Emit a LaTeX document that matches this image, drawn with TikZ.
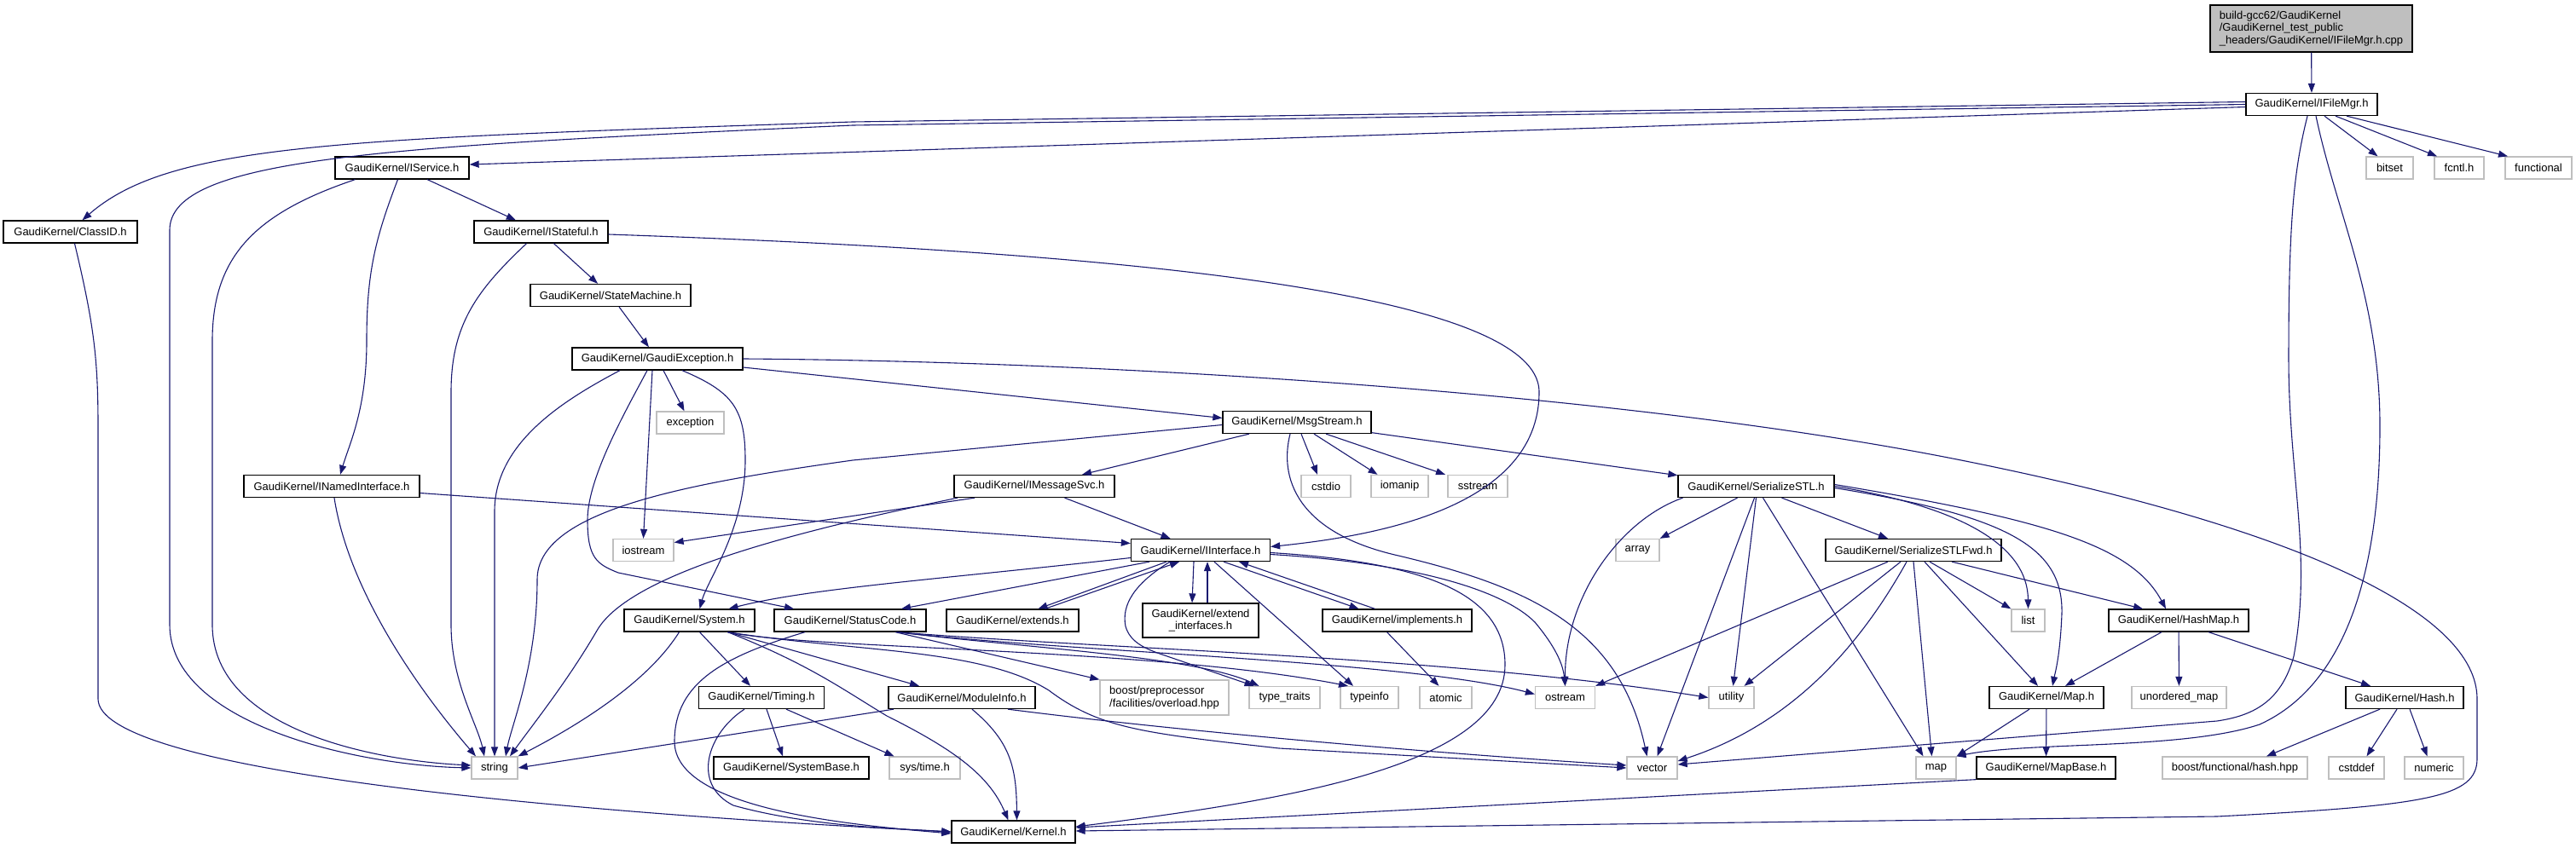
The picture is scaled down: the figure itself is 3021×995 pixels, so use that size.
\documentclass[tikz,border=0pt]{standalone}
\usepackage{fontspec}
\setmainfont{Liberation Sans}
\usetikzlibrary{arrows.meta}
\definecolor{edgec}{HTML}{191970}
\definecolor{grayb}{HTML}{BFBFBF}
\begin{document}
\begin{tikzpicture}[x=1pt,y=-1pt,
  font=\fontsize{13}{14.5}\selectfont,
  bx/.style={draw=black, line width=1.3pt, fill=white, minimum height=26pt, inner xsep=6pt, inner ysep=2pt},
  gx/.style={bx, draw=grayb},
  ed/.style={draw=edgec, line width=1.1pt, -{Triangle[length=11pt,width=8pt]}}]
\useasboundingbox (0,0) rectangle (3021,995);
% nodes
\node[bx, fill=grayb, minimum width=237pt, minimum height=55pt, align=left] (root) at (2710.5,33.5) {build-gcc62/GaudiKernel\\/GaudiKernel\_test\_public\\\_headers/GaudiKernel/IFileMgr.h.cpp};
\node[bx, minimum width=154pt] (IFileMgr) at (2711,122.5) {GaudiKernel/IFileMgr.h};
\node[gx, minimum width=55pt] (bitset) at (2802.5,197) {bitset};
\node[gx, minimum width=58pt] (fcntl) at (2884,197) {fcntl.h};
\node[gx, minimum width=78pt] (functional) at (2977,197) {functional};
\node[bx, minimum width=157pt] (IService) at (471.5,197) {GaudiKernel/IService.h};
\node[bx, minimum width=157pt] (ClassID) at (82.5,272) {GaudiKernel/ClassID.h};
\node[bx, minimum width=157pt] (IStateful) at (634.5,272) {GaudiKernel/IStateful.h};
\node[bx, minimum width=188pt] (StateMachine) at (716,346.5) {GaudiKernel/StateMachine.h};
\node[bx, minimum width=200pt] (GaudiException) at (771,421) {GaudiKernel/GaudiException.h};
\node[gx, minimum width=79pt] (exception) at (809.5,496) {exception};
\node[bx, minimum width=174pt] (MsgStream) at (1521,495.5) {GaudiKernel/MsgStream.h};
\node[bx, minimum width=188pt] (IMessageSvc) at (1213,570.5) {GaudiKernel/IMessageSvc.h};
\node[gx, minimum width=58pt] (cstdio) at (1555,570.5) {cstdio};
\node[gx, minimum width=67pt] (iomanip) at (1641.5,570.5) {iomanip};
\node[gx, minimum width=70pt] (sstream) at (1733,570.5) {sstream};
\node[bx, minimum width=183pt] (SerializeSTL) at (2059.5,570.5) {GaudiKernel/SerializeSTL.h};
\node[bx, minimum width=206pt] (INamedInterface) at (389,570.5) {GaudiKernel/INamedInterface.h};
\node[bx, minimum width=163pt] (IInterface) at (1408,645.5) {GaudiKernel/IInterface.h};
\node[gx, minimum width=71pt] (iostream) at (754.5,645.5) {iostream};
\node[gx, minimum width=51pt] (array) at (1920.5,645.5) {array};
\node[bx, minimum width=206pt] (SerializeSTLFwd) at (2244,645.5) {GaudiKernel/SerializeSTLFwd.h};
\node[bx, minimum width=153pt] (System) at (808.5,728) {GaudiKernel/System.h};
\node[bx, minimum width=178pt] (StatusCode) at (997,728) {GaudiKernel/StatusCode.h};
\node[bx, minimum width=155pt] (extends) at (1187.5,728) {GaudiKernel/extends.h};
\node[bx, minimum width=136pt, minimum height=40pt, align=center] (extendif) at (1408,728) {GaudiKernel/extend\\\_interfaces.h};
\node[bx, minimum width=175pt] (implements) at (1638.5,728) {GaudiKernel/implements.h};
\node[gx, minimum width=39pt] (list) at (2378.5,728) {list};
\node[bx, minimum width=164pt] (HashMap) at (2555,728) {GaudiKernel/HashMap.h};
\node[bx, minimum width=147pt] (Timing) at (893,818.5) {GaudiKernel/Timing.h};
\node[bx, minimum width=172pt] (ModuleInfo) at (1128,818.5) {GaudiKernel/ModuleInfo.h};
\node[gx, minimum width=151pt, minimum height=41pt, align=left] (boost) at (1365.5,818.5) {boost/preprocessor\\/facilities/overload.hpp};
\node[gx, minimum width=83pt] (typetraits) at (1506.5,818.5) {type\_traits};
\node[gx, minimum width=68pt] (typeinfo) at (1606,818.5) {typeinfo};
\node[gx, minimum width=61pt] (atomic) at (1695.5,818.5) {atomic};
\node[gx, minimum width=70pt] (ostream) at (1835.5,818.5) {ostream};
\node[gx, minimum width=53pt] (utility) at (2030.5,818.5) {utility};
\node[bx, minimum width=134pt] (Map) at (2400,818.5) {GaudiKernel/Map.h};
\node[gx, minimum width=111pt] (unordered) at (2555.5,818.5) {unordered\_map};
\node[bx, minimum width=138pt] (Hash) at (2820,818.5) {GaudiKernel/Hash.h};
\node[bx, minimum width=182pt] (SystemBase) at (928,901) {GaudiKernel/SystemBase.h};
\node[gx, minimum width=83pt] (systime) at (1084.5,901) {sys/time.h};
\node[gx, minimum width=54pt] (string) at (580,901) {string};
\node[gx, minimum width=59pt] (vector) at (1937.5,901) {vector};
\node[gx, minimum width=47pt] (map) at (2270.5,901) {map};
\node[bx, minimum width=163pt] (MapBase) at (2399.5,901) {GaudiKernel/MapBase.h};
\node[gx, minimum width=170pt] (boosthash) at (2621,901) {boost/functional/hash.hpp};
\node[gx, minimum width=65pt] (cstddef) at (2763.5,901) {cstddef};
\node[gx, minimum width=69pt] (numeric) at (2854.5,901) {numeric};
\node[bx, minimum width=145pt] (Kernel) at (1188.5,976) {GaudiKernel/Kernel.h};
% edges: root / IFileMgr
\draw[ed] (root) -- (IFileMgr);
\draw[ed] ([yshift=3pt]IFileMgr.west) -- (1000,143) .. controls (400,163) and (200,168) .. ([xshift=14pt]ClassID.north);
\draw[ed] (IFileMgr.west) -- (1000,147) .. controls (450,172) and (199,185) .. (199,270) -- (199,733) .. controls (199,850) and (420,898) .. (string.west);
\draw[ed] ([yshift=-3pt]IFileMgr.west) -- ([yshift=4pt]IService.east);
\draw[ed] ([xshift=15pt]IFileMgr.south) -- ([xshift=-14pt]bitset.north);
\draw[ed] ([xshift=28pt]IFileMgr.south) -- ([xshift=-26pt]fcntl.north);
\draw[ed] ([xshift=41pt]IFileMgr.south) -- ([xshift=-36pt]functional.north);
\draw[ed] ([xshift=-5pt]IFileMgr.south) .. controls (2690,200) and (2684,260) .. (2684,420) .. controls (2684,560) and (2712,650) .. (2690,770) .. controls (2675,825) and (2640,840) .. (2600,846) -- ([yshift=4pt]vector.east);
\draw[ed] ([xshift=5pt]IFileMgr.south) .. controls (2740,250) and (2791,350) .. (2791,500) .. controls (2791,650) and (2760,800) .. (2650,850) .. controls (2560,880) and (2380,870) .. (map.north east);
% IService
\draw[ed] (IService) -- (IStateful);
\draw[ed] ([xshift=-5pt]IService.south) .. controls (440,280) and (430,320) .. (430,400) .. controls (430,480) and (410,520) .. ([xshift=10pt]INamedInterface.north);
\draw[ed] ([xshift=-55pt]IService.south) .. controls (300,250) and (249,300) .. (249,400) -- (249,733) .. controls (249,860) and (450,893) .. ([yshift=3pt]string.west);
% IStateful
\draw[ed] (IStateful) -- (StateMachine);
\draw[ed] ([xshift=-17pt]IStateful.south) .. controls (560,340) and (529,380) .. (529,460) -- (529,733) .. controls (529,800) and (560,850) .. ([xshift=-12pt]string.north);
\draw[ed] ([yshift=-3pt]IStateful.east) .. controls (1200,292) and (1805,330) .. (1805,460) .. controls (1805,600) and (1600,630) .. ([yshift=4pt]IInterface.east);
% StateMachine / GaudiException
\draw[ed] (StateMachine) -- (GaudiException);
\draw[ed] (GaudiException) -- (exception);
\draw[ed] ([xshift=-6pt]GaudiException.south) -- (iostream.north);
\draw[ed] ([xshift=-44pt]GaudiException.south) .. controls (660,470) and (580,520) .. (580,600) -- (string.north);
\draw[ed] ([xshift=-12pt]GaudiException.south) .. controls (735,480) and (689,560) .. (689,610) .. controls (689,655) and (700,662) .. (725,672) -- ([xshift=-66pt]StatusCode.north);
\draw[ed] ([xshift=29pt]GaudiException.south) .. controls (860,460) and (874,480) .. (874,540) .. controls (874,620) and (830,680) .. ([xshift=12pt]System.north);
\draw[ed] ([yshift=-10pt]GaudiException.east) -- ([yshift=5pt]MsgStream.west);
\draw[ed] (GaudiException.east) .. controls (1300,424) and (1900,460) .. (2300,540) .. controls (2700,620) and (2905,720) .. (2905,820) -- (2905,890) .. controls (2905,935) and (2850,945) .. (2600,958) -- ([yshift=1pt]Kernel.east);
% MsgStream
\draw[ed] (MsgStream) -- (IMessageSvc);
\draw[ed] ([xshift=5pt]MsgStream.south) -- ([xshift=-10pt]cstdio.north);
\draw[ed] ([xshift=20pt]MsgStream.south) -- ([xshift=-26pt]iomanip.north);
\draw[ed] ([xshift=34pt]MsgStream.south) -- ([xshift=-38pt]sstream.north);
\draw[ed] (MsgStream) -- (SerializeSTL);
\draw[ed] ([yshift=-3pt]MsgStream.west) -- (1000,540) .. controls (800,568) and (630,600) .. (630,680) .. controls (630,780) and (600,850) .. ([xshift=13pt]string.north);
\draw[ed] ([xshift=-8pt]MsgStream.south) .. controls (1500,560) and (1520,625) .. (1640,652) .. controls (1800,690) and (1900,740) .. ([xshift=-6pt]vector.north);
% IMessageSvc
\draw[ed] (IMessageSvc) -- (IInterface);
\draw[ed] ([xshift=-70pt]IMessageSvc.south) -- ([yshift=9pt]iostream.east);
\draw[ed] ([xshift=-90pt]IMessageSvc.south) .. controls (950,620) and (740,670) .. (700,740) .. controls (665,800) and (625,850) .. ([xshift=18pt]string.north);
% INamedInterface
\draw[ed] ([yshift=-8pt]INamedInterface.east) -- ([yshift=8pt]IInterface.west);
\draw[ed] ([xshift=3pt]INamedInterface.south) .. controls (410,700) and (500,820) .. ([xshift=-22pt]string.north);
% IInterface
\draw[ed] ([yshift=-9pt]IInterface.west) .. controls (1100,680) and (950,690) .. ([xshift=46pt]System.north);
\draw[ed] ([xshift=-60pt]IInterface.south) -- ([xshift=60pt]StatusCode.north);
\draw[ed] ([xshift=-40pt]IInterface.south) -- ([xshift=30pt]extends.north);
\draw[ed] ([xshift=38pt]extends.north) -- ([xshift=-25pt]IInterface.south);
\draw[ed] ([xshift=-8pt]IInterface.south) -- ([xshift=-10pt]extendif.north);
\draw[ed] ([xshift=8pt]extendif.north) -- ([xshift=8pt]IInterface.south);
\draw[ed] ([xshift=27pt]IInterface.south) -- ([xshift=-45pt]implements.north);
\draw[ed] ([xshift=-26pt]implements.north) -- ([xshift=45pt]IInterface.south);
\draw[ed] ([xshift=16pt]IInterface.south) -- ([xshift=-19pt]typeinfo.north);
\draw[ed] ([xshift=-36pt]IInterface.south) .. controls (1330,685) and (1315,710) .. (1320,735) .. controls (1325,752) and (1340,760) .. (1360,767) -- ([xshift=-36pt]typetraits.north);
\draw[ed] ([yshift=-5pt]IInterface.east) .. controls (1650,660) and (1760,690) .. (1800,730) .. controls (1825,760) and (1833,780) .. (ostream.north);
\draw[ed] ([yshift=-3pt]IInterface.east) .. controls (1680,660) and (1765,700) .. (1765,780) .. controls (1765,900) and (1500,940) .. ([yshift=6pt]Kernel.east);
% implements
\draw[ed] ([xshift=-12pt]implements.south) -- ([xshift=-8pt]atomic.north);
% System
\draw[ed] ([xshift=12pt]System.south) -- ([xshift=-13pt]Timing.north);
\draw[ed] ([xshift=-12pt]System.south) .. controls (760,800) and (680,850) .. (string.north east);
\draw[ed] ([xshift=45pt]System.south) -- ([xshift=-50pt]ModuleInfo.north);
\draw[ed] ([xshift=45pt]System.south) .. controls (950,780) and (990,810) .. (1040,840) .. controls (1120,880) and (1160,910) .. ([xshift=-6pt]Kernel.north);
\draw[ed] ([xshift=45pt]System.south) .. controls (1000,765) and (1150,760) .. (1230,810) .. controls (1290,855) and (1340,860) .. (1500,878) -- (vector.west);
\draw[ed] ([xshift=45pt]System.south) .. controls (950,762) and (1350,760) .. ([xshift=-25pt]typeinfo.north);
% StatusCode
\draw[ed] ([xshift=-53pt]StatusCode.south) .. controls (850,770) and (791,800) .. (791,870) .. controls (791,950) and (1000,968) .. ([yshift=-2pt]Kernel.west);
\draw[ed] ([xshift=53pt]StatusCode.south) -- (boost.north west);
\draw[ed] ([xshift=55pt]StatusCode.south) .. controls (1200,760) and (1400,770) .. ([xshift=-30pt]typetraits.north);
\draw[ed] ([xshift=55pt]StatusCode.south) .. controls (1250,765) and (1650,775) .. ([yshift=4pt]ostream.west);
\draw[ed] ([xshift=55pt]StatusCode.south) .. controls (1300,762) and (1700,770) .. (utility.west);
% Timing
\draw[ed] ([xshift=6pt]Timing.south) -- ([xshift=-10pt]SystemBase.north);
\draw[ed] ([xshift=29pt]Timing.south) -- ([xshift=-36pt]systime.north);
\draw[ed] ([xshift=-20pt]Timing.south) .. controls (830,860) and (810,920) .. (860,945) .. controls (950,970) and (1050,972) .. (Kernel.west);
% ModuleInfo
\draw[ed] ([xshift=-80pt]ModuleInfo.south) -- (string.east);
\draw[ed] ([xshift=12pt]ModuleInfo.south) .. controls (1185,870) and (1192,900) .. ([xshift=4pt]Kernel.north);
\draw[ed] ([xshift=54pt]ModuleInfo.south) .. controls (1400,860) and (1700,885) .. ([yshift=3pt]vector.west);
% ClassID
\draw[ed] ([xshift=5pt]ClassID.south) .. controls (110,380) and (115,420) .. (115,500) -- (115,820) .. controls (115,900) and (600,950) .. (Kernel.west);
% SerializeSTL
\draw[ed] ([xshift=-86pt]SerializeSTL.south) .. controls (1900,610) and (1835,700) .. (ostream.north);
\draw[ed] ([xshift=-22pt]SerializeSTL.south) -- (array.north east);
\draw[ed] ([xshift=-2pt]SerializeSTL.south) -- ([xshift=6pt]vector.north);
\draw[ed] (SerializeSTL.south) -- ([xshift=2pt]utility.north);
\draw[ed] ([xshift=8pt]SerializeSTL.south) -- ([xshift=-15pt]map.north);
\draw[ed] ([xshift=30pt]SerializeSTL.south) -- ([xshift=-30pt]SerializeSTLFwd.north);
\draw[ed] (SerializeSTL.east) .. controls (2300,595) and (2378,640) .. (list.north);
\draw[ed] ([yshift=-2pt]SerializeSTL.east) .. controls (2350,605) and (2420,640) .. (2418,720) .. controls (2416,770) and (2410,790) .. ([xshift=7pt]Map.north);
\draw[ed] ([yshift=2pt]SerializeSTL.east) .. controls (2400,610) and (2500,640) .. ([xshift=-15pt]HashMap.north);
% SerializeSTLFwd
\draw[ed] ([xshift=-30pt]SerializeSTLFwd.south) -- (ostream.north east);
\draw[ed] ([xshift=-15pt]SerializeSTLFwd.south) -- ([xshift=15pt]utility.north);
\draw[ed] ([xshift=-8pt]SerializeSTLFwd.south) .. controls (2180,760) and (2100,850) .. ([yshift=8pt]vector.east);
\draw[ed] (SerializeSTLFwd.south) -- ([xshift=-5pt]map.north);
\draw[ed] ([xshift=13pt]SerializeSTLFwd.south) -- ([xshift=-10pt]Map.north);
\draw[ed] ([xshift=19pt]SerializeSTLFwd.south) -- (list.north west);
\draw[ed] ([xshift=45pt]SerializeSTLFwd.south) -- ([xshift=-42pt]HashMap.north);
% HashMap, Map, MapBase, Hash
\draw[ed] ([xshift=-20pt]HashMap.south) -- ([xshift=22pt]Map.north);
\draw[ed] (HashMap) -- (unordered);
\draw[ed] ([xshift=35pt]HashMap.south) -- ([xshift=-40pt]Hash.north);
\draw[ed] ([xshift=-20pt]Map.south) -- (map.north east);
\draw[ed] (Map) -- (MapBase);
\draw[ed] (MapBase.south west) -- ([yshift=5pt]Kernel.east);
\draw[ed] ([xshift=-29pt]Hash.south) -- ([xshift=37pt]boosthash.north);
\draw[ed] ([xshift=-9pt]Hash.south) -- ([xshift=12pt]cstddef.north);
\draw[ed] ([xshift=6pt]Hash.south) -- ([xshift=-8pt]numeric.north);
\end{tikzpicture}
\end{document}
